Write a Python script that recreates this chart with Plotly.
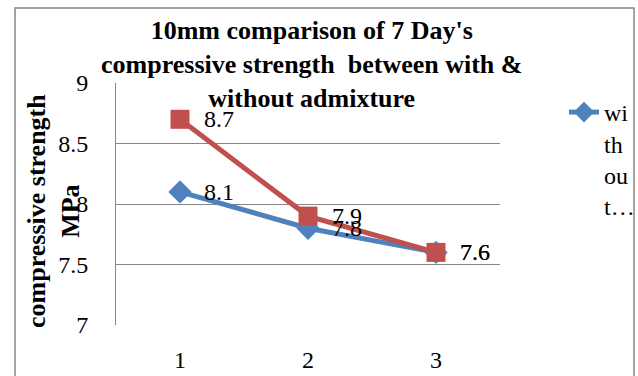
import plotly.graph_objects as go

# Specimen groups and their 7-day compressive strengths, MPa
groups = [1, 2, 3]
without_admixture = [8.1, 7.8, 7.6]
with_admixture = [8.7, 7.9, 7.6]

legend_label = "wi<br>th<br>ou<br>t…"
title_text = ("10mm comparison of 7 Day's<br>"
              "compressive strength  between with &<br>"
              "without admixture")
y_title = "compressive strength<br>MPa"
y_ticks = [7, 7.5, 8, 8.5, 9]

BLUE = "#4F81BD"
RED = "#C0504D"
GRID = "#868686"
FONT = "Liberation Serif"

# plot-area geometry in pixels, used to place items outside it
PL, PR, PT, PB = 116, 500, 83, 325
PW, PH = PR - PL, PB - PT

fig = go.Figure()

fig.add_trace(go.Scatter(
    x=groups, y=without_admixture, mode="lines+markers",
    name=legend_label,
    line=dict(color=BLUE, width=5),
    marker=dict(symbol="diamond", size=18, color=BLUE),
))
fig.add_trace(go.Scatter(
    x=groups, y=with_admixture, mode="lines+markers",
    name="with admixture", showlegend=False,
    line=dict(color=RED, width=5),
    marker=dict(symbol="square", size=19, color=RED),
))

# value labels beside each point
for series in (without_admixture, with_admixture):
    for gx, gy in zip(groups, series):
        fig.add_annotation(
            x=gx, y=gy, text=f"{gy:g}", showarrow=False,
            xanchor="left", yanchor="middle", xshift=22,
            font=dict(family=FONT, size=24, color="black"),
        )

# chart title
fig.add_annotation(
    text=title_text, xref="paper", yref="paper",
    x=(311 - PL) / PW, xanchor="center",
    y=1 + (PT - 14) / PH, yanchor="top",
    showarrow=False, align="center",
    font=dict(family=FONT, size=26, color="black", weight="bold"),
)

# vertical axis title
fig.add_annotation(
    text=y_title, xref="paper", yref="paper",
    x=(53 - PL) / PW, xanchor="center",
    y=1 - (211 - PT) / PH, yanchor="middle",
    textangle=-90, showarrow=False, align="center",
    font=dict(family=FONT, size=26, color="black", weight="bold"),
)

# outer chart border
fig.add_shape(
    type="rect", xref="paper", yref="paper",
    x0=(15 - PL) / PW, x1=(634 - PL) / PW,
    y0=-0.5, y1=1 + (PT - 8) / PH,
    line=dict(color=GRID, width=1.5), layer="below",
)

fig.update_layout(
    width=638, height=376,
    margin=dict(l=PL, r=638 - PR, t=PT, b=376 - PB, autoexpand=False),
    paper_bgcolor="white", plot_bgcolor="white",
    font=dict(family=FONT, size=24, color="black"),
    xaxis=dict(
        range=[0.5, 3.5], tickvals=groups, ticks="",
        showgrid=False, zeroline=False, showline=False,
        ticklabelstandoff=18, automargin=False,
        tickfont=dict(family=FONT, size=24, color="black"),
    ),
    yaxis=dict(
        range=[7, 9], tickvals=y_ticks, ticks="",
        showgrid=True, gridcolor=GRID, gridwidth=1,
        zeroline=False, showline=True, linecolor=GRID, linewidth=1,
        ticklabelstandoff=22, automargin=False,
        tickfont=dict(family=FONT, size=24, color="black"),
    ),
    legend=dict(
        x=1 + (564 - PR) / PW, xanchor="left",
        y=1 - (90 - PT) / PH, yanchor="top",
        valign="top", bgcolor="rgba(0,0,0,0)",
        font=dict(family=FONT, size=24, color="black"),
    ),
)

fig.write_html("out.html")
